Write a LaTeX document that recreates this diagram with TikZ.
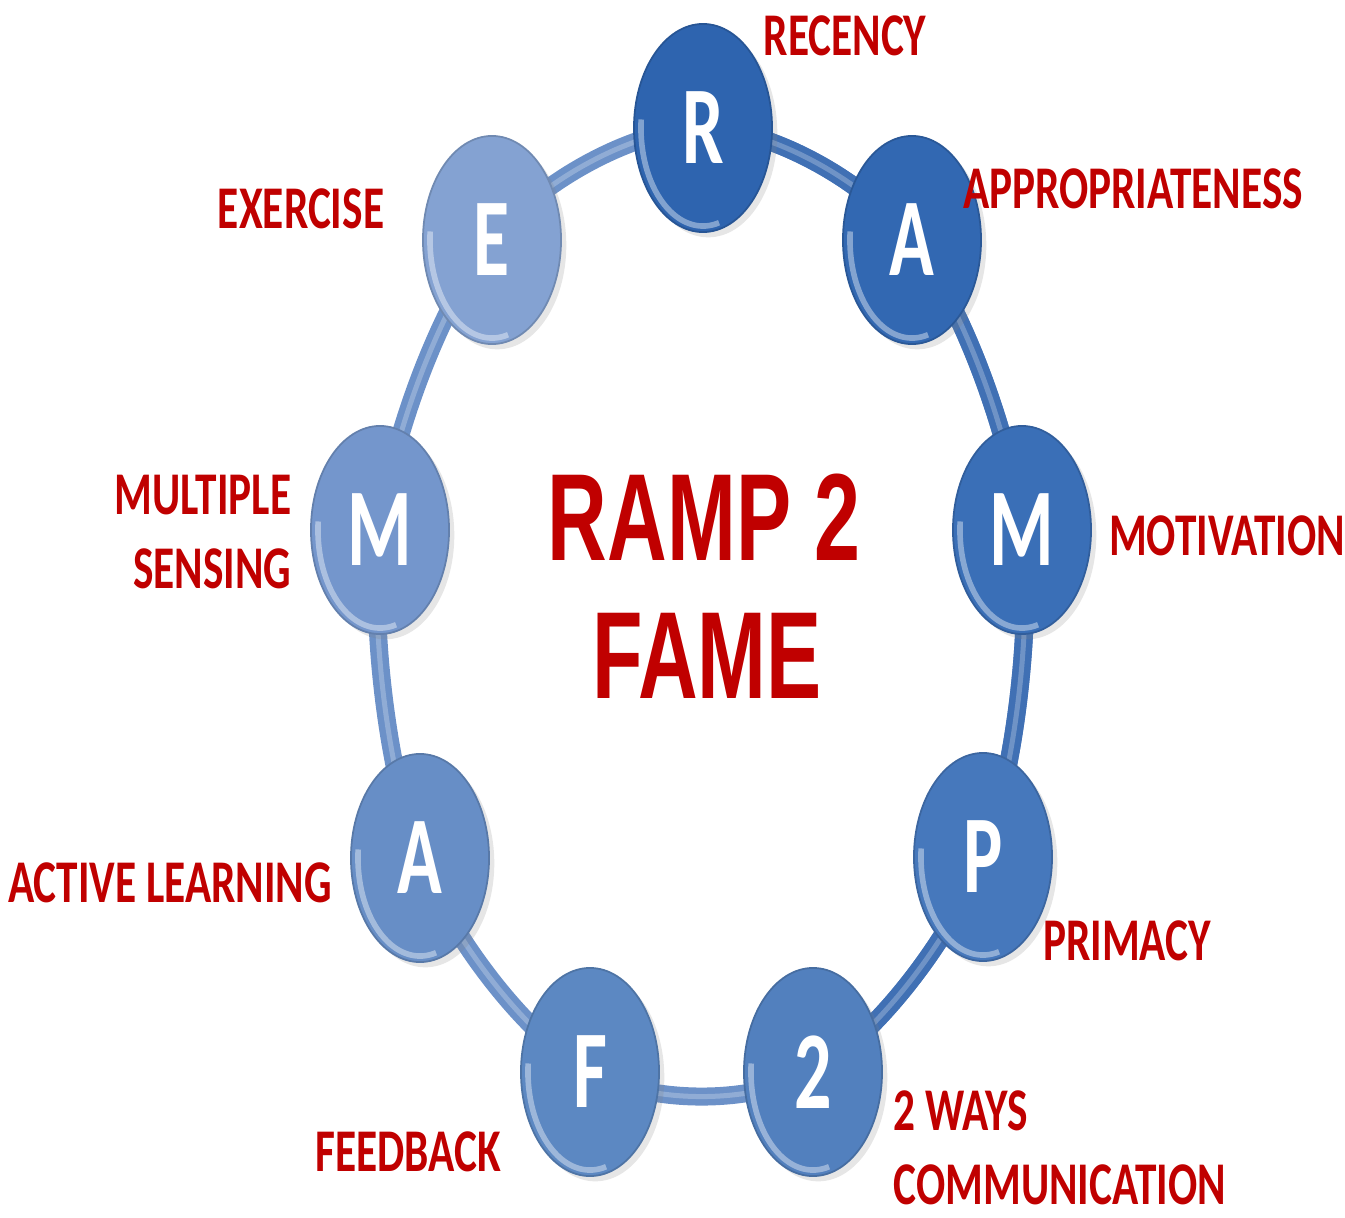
\documentclass[tikz,border=0pt]{standalone}
\usepackage{graphicx}
\usepackage{fontspec}
\setmainfont{Carlito}
\newfontfamily\heavyfont{Liberation Sans}
\usetikzlibrary{shapes.geometric,shadows}
\definecolor{lab}{HTML}{C00000}
\definecolor{b1}{RGB}{46,100,175}
\definecolor{b2}{RGB}{50,104,178}
\definecolor{b3}{RGB}{58,111,183}
\definecolor{b4}{RGB}{70,120,188}
\definecolor{b5}{RGB}{82,128,190}
\definecolor{b6}{RGB}{92,136,194}
\definecolor{b7}{RGB}{103,142,198}
\definecolor{b8}{RGB}{116,150,204}
\definecolor{b9}{RGB}{132,162,210}
\definecolor{ringdark}{RGB}{64,112,180}
\definecolor{ringlight}{RGB}{108,145,200}
\newcommand{\vstretch}[1]{\scalebox{1}[1.5]{#1}}
\newcommand{\lstretch}[1]{\scalebox{1.07}[1.5]{#1}}
\tikzset{
  bub/.style={ellipse, minimum width=1.38cm, minimum height=2.08cm, inner sep=0pt,
    text=white, font=\fontsize{21}{24}\selectfont\bfseries,
    fill=#1, draw=#1!85!black, line width=0.5pt,
    drop shadow={shadow xshift=1.5pt, shadow yshift=-1.5pt, opacity=0.2},
    path picture={\draw[white, opacity=0.4, line width=1.6pt]
      (path picture bounding box.center) ++(175:0.62cm and 0.98cm)
      arc[start angle=175, end angle=285, x radius=0.62cm, y radius=0.98cm];}},
  lbl/.style={text=lab, font=\fontsize{11.5}{14}\selectfont\bfseries, inner sep=0pt},
  ttl/.style={text=lab, inner sep=0pt, font=\heavyfont\bfseries\fontsize{23.5}{26}\selectfont},
  ringline/.style={line width=0.18cm, line cap=round}
}
\begin{document}
\begin{tikzpicture}[x=0.01cm, y=-0.01cm]
\useasboundingbox (0,0) rectangle (1345,1218);
% centres
\coordinate (cR) at (703,128);
\coordinate (cA1) at (912,240);
\coordinate (cM1) at (1022,530);
\coordinate (cP) at (983,857);
\coordinate (c2) at (813,1072);
\coordinate (cF) at (590,1072);
\coordinate (cA2) at (420,858);
\coordinate (cM2) at (380,530);
\coordinate (cE) at (492,240);
% ring
\draw[ringline, ringlight] plot[smooth cycle, tension=0.55] coordinates {(cR) (cA1) (cM1) (cP) (c2) (cF) (cA2) (cM2) (cE)};
\begin{scope}
\clip (703,0) -- (1345,0) -- (1345,1218) -- (880,1218) -- cycle;
\draw[ringline, ringdark] plot[smooth cycle, tension=0.55] coordinates {(cR) (cA1) (cM1) (cP) (c2) (cF) (cA2) (cM2) (cE)};
\end{scope}
\draw[line width=0.05cm, white, opacity=0.25] plot[smooth cycle, tension=0.55] coordinates {(cR) (cA1) (cM1) (cP) (c2) (cF) (cA2) (cM2) (cE)};
% bubbles
\node[bub=b1] (R) at (cR) {\vstretch{R}};
\node[bub=b2] (A1) at (cA1) {\vstretch{A}};
\node[bub=b3] (M1) at (cM1) {\vstretch{M}};
\node[bub=b4] (P) at (cP) {\vstretch{P}};
\node[bub=b5] (N2) at (c2) {\vstretch{2}};
\node[bub=b6] (F) at (cF) {\vstretch{F}};
\node[bub=b7] (A2) at (cA2) {\vstretch{A}};
\node[bub=b8] (M2) at (cM2) {\vstretch{M}};
\node[bub=b9] (E) at (cE) {\vstretch{E}};
% labels
\node[lbl] (lR) at (845,36) {\lstretch{RECENCY}};
\node[lbl] (lA1) at (1133,189) {\lstretch{APPROPRIATENESS}};
\node[lbl] (lM1) at (1227,536) {\lstretch{MOTIVATION}};
\node[lbl] (lP) at (1127,941) {\lstretch{PRIMACY}};
\node[lbl, anchor=west] (l2) at (893,1153) {\lstretch{\begin{tabular}{@{}l@{}}2 WAYS\\COMMUNICATION\end{tabular}}};
\node[lbl] (lF) at (408,1152) {\lstretch{FEEDBACK}};
\node[lbl] (lA2) at (170,883) {\lstretch{ACTIVE LEARNING}};
\node[lbl, anchor=east] (lM2) at (292,537) {\lstretch{\begin{tabular}{@{}r@{}}MULTIPLE\\SENSING\end{tabular}}};
\node[lbl] (lE) at (301,209) {\lstretch{EXERCISE}};
% title
\node[ttl] (t1) at (704,517) {\vstretch{RAMP 2}};
\node[ttl] (t2) at (707,656) {\vstretch{FAME}};
\end{tikzpicture}
\end{document}
